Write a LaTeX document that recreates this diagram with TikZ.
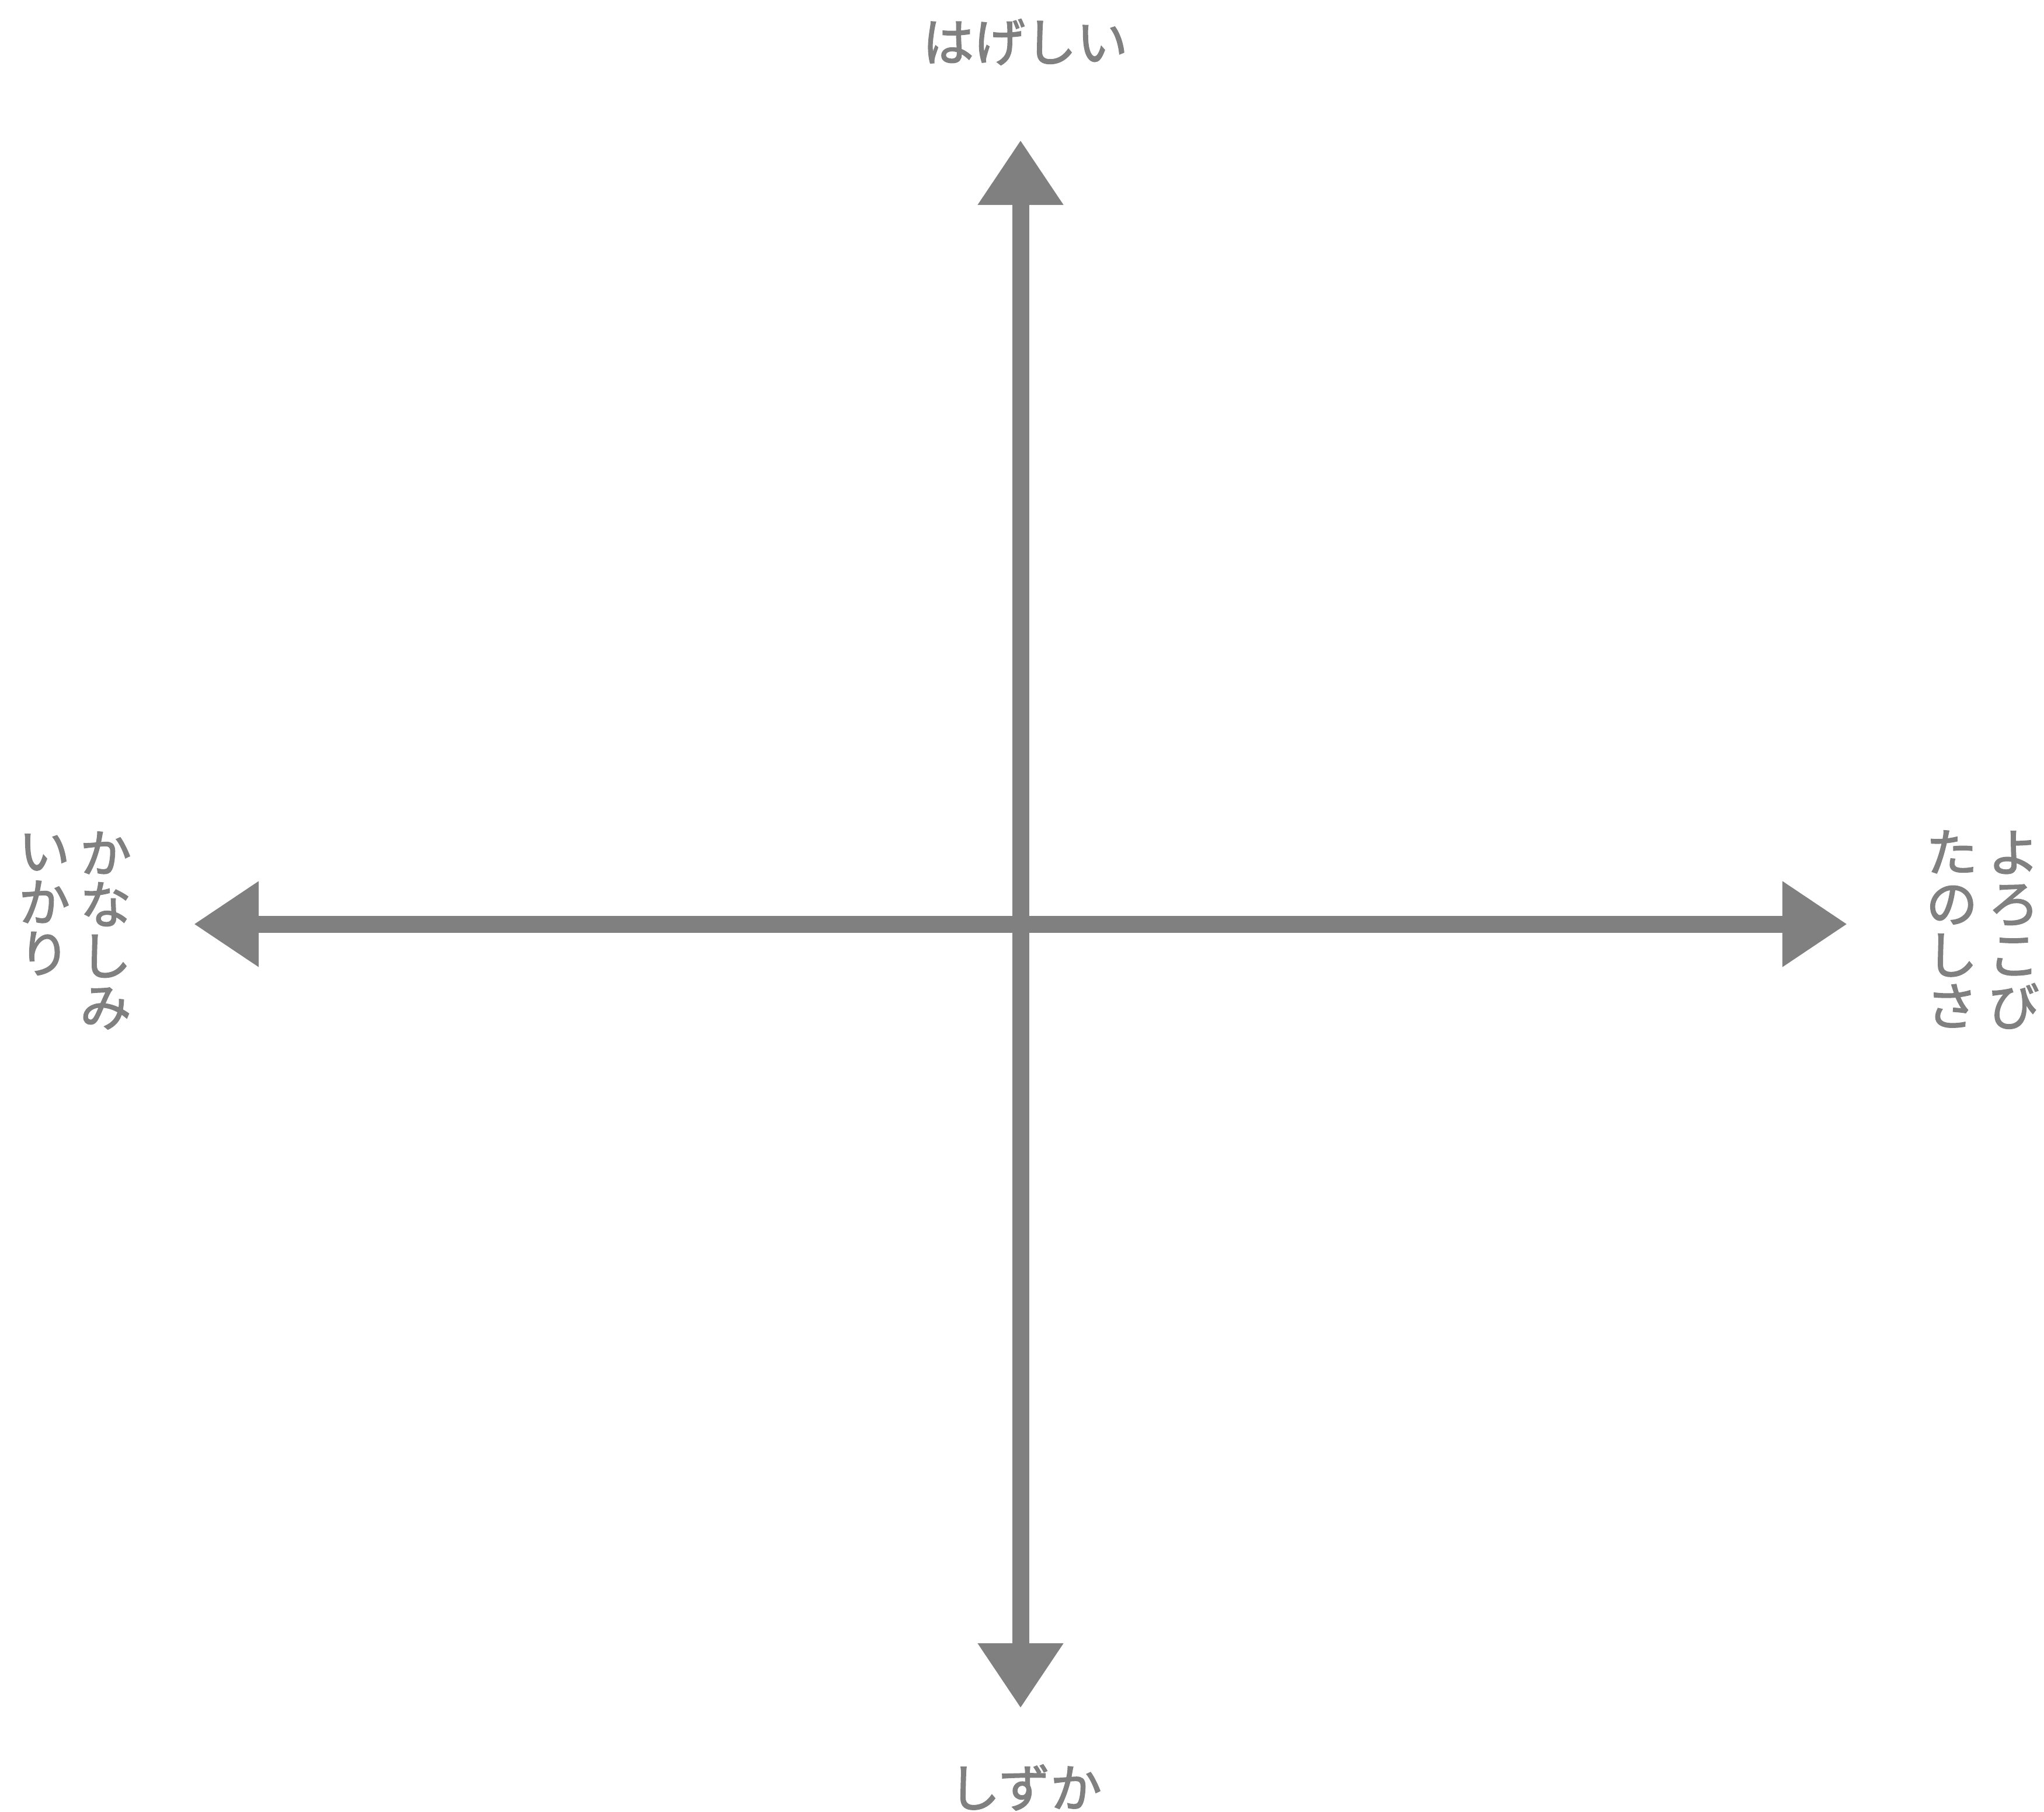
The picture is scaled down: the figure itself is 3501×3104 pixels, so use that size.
\documentclass[tikz,border=0pt]{standalone}
\usepackage{fontspec}
\setmainfont{Noto Sans CJK JP}
\newfontfamily\lblfont[FakeBold=2]{Noto Sans CJK JP}
\usetikzlibrary{arrows.meta}
\definecolor{axisgray}{RGB}{128,128,128}
\begin{document}
\begin{tikzpicture}[x=0.01cm,y=-0.01cm,
  axis/.style={draw=axisgray, line width=0.29cm,
    {Triangle[length=1.11cm,width=1.39cm]}-{Triangle[length=1.11cm,width=1.39cm]}},
  lbl/.style={text=axisgray, inner sep=0pt, font=\lblfont\fontsize{25pt}{25pt}\selectfont},
  vlbl/.style={lbl, align=center, anchor=north}]
\useasboundingbox (0,0) rectangle (3501,3104);
% axis end points
\coordinate (top) at (1748,240);
\coordinate (bottom) at (1748,2926);
\coordinate (left) at (332,1583);
\coordinate (right) at (3164,1583);
\draw[axis] (bottom) -- (top);
\draw[axis] (left) -- (right);
% labels
\node[lbl] (hageshii) at (1756,72) {はげしい};
\node[lbl] (shizuka) at (1756,3062) {しずか};
\node[vlbl] (kanashimi) at (181,1424) {か\\な\\し\\み};
\node[vlbl] (ikari) at (76,1428) {い\\か\\り};
\node[vlbl] (yorokobi) at (3449,1423) {よ\\ろ\\こ\\び};
\node[vlbl] (tanoshisa) at (3343,1422) {た\\の\\し\\さ};
\end{tikzpicture}
\end{document}
